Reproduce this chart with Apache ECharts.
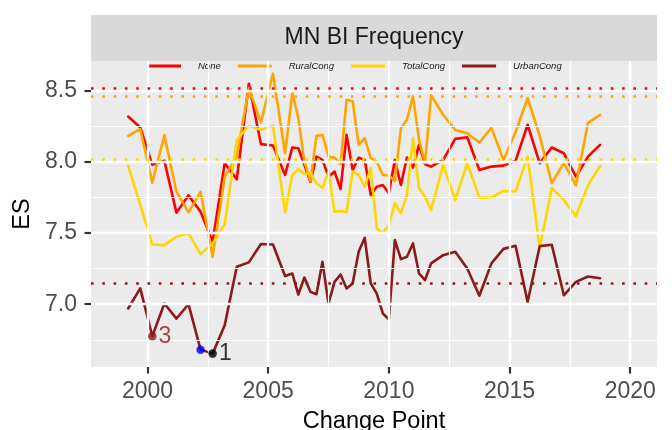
<!DOCTYPE html>
<html>
<head>
<meta charset="utf-8">
<script src="https://cdn.jsdelivr.net/npm/echarts@6/dist/echarts.min.js"></script>
<style>
  html, body { margin: 0; padding: 0; background: #ffffff; }
  #chart { width: 672px; height: 430px; }
</style>
</head>
<body>
<div id="chart"></div>
<script>
// Change points (decimal years) shared by all four series
const changePoint = [
  1999.2, 1999.7, 2000.2, 2000.7, 2001.2, 2001.7, 2002.2, 2002.7, 2003.2, 2003.7,
  2004.2, 2004.7, 2005.2, 2005.7, 2006.0, 2006.25, 2006.5, 2006.75, 2007.0, 2007.25,
  2007.5, 2007.75, 2008.0, 2008.25, 2008.5, 2008.75, 2009.0, 2009.25, 2009.5, 2009.75,
  2010.0, 2010.25, 2010.5, 2010.75, 2011.0, 2011.25, 2011.5, 2011.75, 2012.25, 2012.75,
  2013.25, 2013.75, 2014.25, 2014.75, 2015.25, 2015.75, 2016.25, 2016.75, 2017.25, 2017.75,
  2018.25, 2018.75
];

// ES per change point
const noneES = [
  8.319, 8.242, 7.979, 8.009, 7.643, 7.765, 7.650, 7.439, 7.991, 7.878,
  8.549, 8.125, 8.115, 7.908, 8.101, 8.096, 7.979, 7.861, 8.037, 8.014,
  7.896, 7.932, 7.810, 8.190, 7.944, 8.030, 8.014, 7.768, 7.826, 7.838,
  7.780, 8.014, 7.838, 8.030, 7.960, 8.120, 7.984, 7.967, 8.014, 8.162,
  8.173, 7.944, 7.967, 7.974, 8.007, 8.261, 7.991, 8.101, 8.061, 7.896,
  8.037, 8.120
];
const ruralES = [
  8.183, 8.230, 7.854, 8.188, 7.791, 7.646, 7.789, 7.333, 7.896, 8.037,
  8.519, 8.277, 8.620, 8.061, 8.484, 8.308, 8.002, 7.866, 8.183, 8.190,
  8.037, 8.030, 7.984, 8.437, 8.426, 8.120, 8.167, 8.026, 8.002, 7.908,
  7.904, 7.866, 8.237, 8.296, 8.460, 8.155, 7.991, 8.468, 8.331, 8.225,
  8.202, 8.136, 8.239, 8.014, 8.208, 8.449, 8.185, 7.850, 7.993, 7.835,
  8.273, 8.331
];
const totalES = [
  7.972, 7.699, 7.420, 7.415, 7.474, 7.498, 7.352, 7.427, 7.561, 8.155,
  8.254, 8.225, 8.256, 7.646, 7.908, 7.949, 7.913, 7.925, 7.850, 7.819,
  7.932, 7.650, 7.655, 7.646, 7.932, 7.908, 7.826, 7.956, 7.533, 7.498,
  7.556, 7.709, 7.639, 7.768, 8.167, 7.815, 7.756, 7.662, 7.979, 7.732,
  7.991, 7.749, 7.750, 7.796, 7.794, 8.037, 7.394, 7.817, 7.732, 7.618,
  7.835, 7.970
];
const urbanES = [
  6.970, 7.111, 6.775, 7.005, 6.899, 7.000, 6.681, 6.653, 6.852, 7.263,
  7.294, 7.423, 7.420, 7.199, 7.216, 7.068, 7.188, 7.087, 7.070, 7.298,
  7.005, 7.157, 7.209, 7.111, 7.146, 7.368, 7.467, 7.146, 7.075, 6.935,
  6.894, 7.451, 7.317, 7.333, 7.427, 7.216, 7.169, 7.287, 7.345, 7.368,
  7.251, 7.060, 7.287, 7.389, 7.411, 7.016, 7.408, 7.418, 7.063, 7.157,
  7.195, 7.183
];

const seriesNames = ['None', 'RuralCong', 'TotalCong', 'UrbanCong'];
const seriesColors = ['#FF0000', '#FFA500', '#FFD700', '#8B1A1A'];
const seriesValues = [noneES, ruralES, totalES, urbanES];

// Dotted reference level for each series
const refLevels = [8.515, 8.462, 8.022, 7.150];

// Highlighted change points on the UrbanCong series
const markedIndex = [2, 6, 7];
const markedLabel = ['3', '', '1'];
const markedColor = ['#8B1A1A', '#0000FF', '#000000'];

// Axis ticks and ranges
const xTicks = [2000, 2005, 2010, 2015, 2020];
const xMinor = [2002.5, 2007.5, 2012.5, 2017.5];
const yTicks = [7.0, 7.5, 8.0, 8.5];
const yMinor = [6.75, 7.25, 7.75, 8.25];
const xRange = [1997.66, 2021.11];
const yRange = [6.559, 8.709];

const FONT = '"Liberation Sans", Arial, Helvetica, sans-serif';

const chart = echarts.init(document.getElementById('chart'), null, { renderer: 'canvas' });

const pairs = vals => changePoint.map((x, i) => [x, vals[i]]);

// Panel grid lines (white, major + minor)
const gridSeries = {
  type: 'line',
  data: [],
  silent: true,
  z: 1,
  markLine: {
    silent: true,
    symbol: ['none', 'none'],
    label: { show: false },
    animation: false,
    data: [
      ...yMinor.map(v => ({ yAxis: v, lineStyle: { color: '#ffffff', width: 1.2, type: 'solid' } })),
      ...xMinor.map(v => ({ xAxis: v, lineStyle: { color: '#ffffff', width: 1.2, type: 'solid' } })),
      ...yTicks.map(v => ({ yAxis: v, lineStyle: { color: '#ffffff', width: 2.4, type: 'solid' } })),
      ...xTicks.map(v => ({ xAxis: v, lineStyle: { color: '#ffffff', width: 2.4, type: 'solid' } }))
    ]
  }
};

const lineSeries = seriesNames.map((name, k) => ({
  name: name,
  type: 'line',
  data: pairs(seriesValues[k]),
  showSymbol: false,
  symbol: 'none',
  z: 3,
  lineStyle: { color: seriesColors[k], width: 2.6, cap: 'round', join: 'round' },
  itemStyle: { color: seriesColors[k] },
  markLine: {
    silent: true,
    symbol: ['none', 'none'],
    label: { show: false },
    animation: false,
    data: [{ yAxis: refLevels[k] }],
    lineStyle: { color: seriesColors[k], width: 2.6, type: [2.6, 8.7], cap: 'butt' }
  }
}));

const pointSeries = {
  type: 'scatter',
  z: 5,
  symbol: 'circle',
  symbolSize: 8.5,
  data: markedIndex.map((idx, j) => ({
    value: [changePoint[idx], urbanES[idx]],
    itemStyle: { color: markedColor[j] },
    label: {
      show: markedLabel[j] !== '',
      formatter: markedLabel[j],
      color: markedColor[j]
    }
  })),
  label: {
    position: 'right',
    distance: 2,
    fontFamily: FONT,
    fontSize: 23
  }
};

chart.setOption({
  animation: false,
  backgroundColor: '#ffffff',
  textStyle: { fontFamily: FONT },
  grid: {
    left: 91, right: 15, top: 61, bottom: 63,
    containLabel: false,
    outerBoundsMode: 'none',
    show: true, backgroundColor: '#EBEBEB', borderWidth: 0
  },
  graphic: [
    {
      type: 'rect', left: 91, top: 15, z: -1,
      shape: { width: 566, height: 46 },
      style: { fill: '#D9D9D9' }
    },
    {
      type: 'text', x: 374, y: 38,
      style: {
        text: 'MN BI Frequency', fill: '#1A1A1A',
        font: '23px ' + FONT, align: 'center', verticalAlign: 'middle'
      }
    }
  ],
  legend: {
    data: seriesNames,
    left: 147, top: 61,
    padding: 0,
    itemWidth: 34, itemHeight: 3,
    itemGap: 17,
    icon: 'rect',
    textStyle: { fontStyle: 'italic', fontSize: 9.5, color: '#1A1A1A', padding: [0, 0, 0, 12] }
  },
  xAxis: {
    type: 'value',
    min: xRange[0], max: xRange[1],
    name: 'Change Point',
    nameLocation: 'middle',
    nameGap: 43,
    nameTextStyle: { fontSize: 23.5, color: '#000000' },
    axisLine: { show: false },
    axisTick: { show: true, customValues: xTicks, length: 6.5, lineStyle: { color: '#333333', width: 2.2 } },
    axisLabel: { customValues: xTicks, fontSize: 23, color: '#4D4D4D', margin: 13, formatter: v => String(v) },
    splitLine: { show: false }
  },
  yAxis: {
    type: 'value',
    min: yRange[0], max: yRange[1],
    name: 'ES',
    nameLocation: 'middle',
    nameGap: 53,
    nameRotate: 90,
    nameTextStyle: { fontSize: 23.5, color: '#000000' },
    axisLine: { show: false },
    axisTick: { show: true, customValues: yTicks, length: 6.5, lineStyle: { color: '#333333', width: 2.2 } },
    axisLabel: { customValues: yTicks, fontSize: 23, color: '#4D4D4D', margin: 14, formatter: v => v.toFixed(1) },
    splitLine: { show: false }
  },
  series: [gridSeries, ...lineSeries, pointSeries]
});
</script>
</body>
</html>
